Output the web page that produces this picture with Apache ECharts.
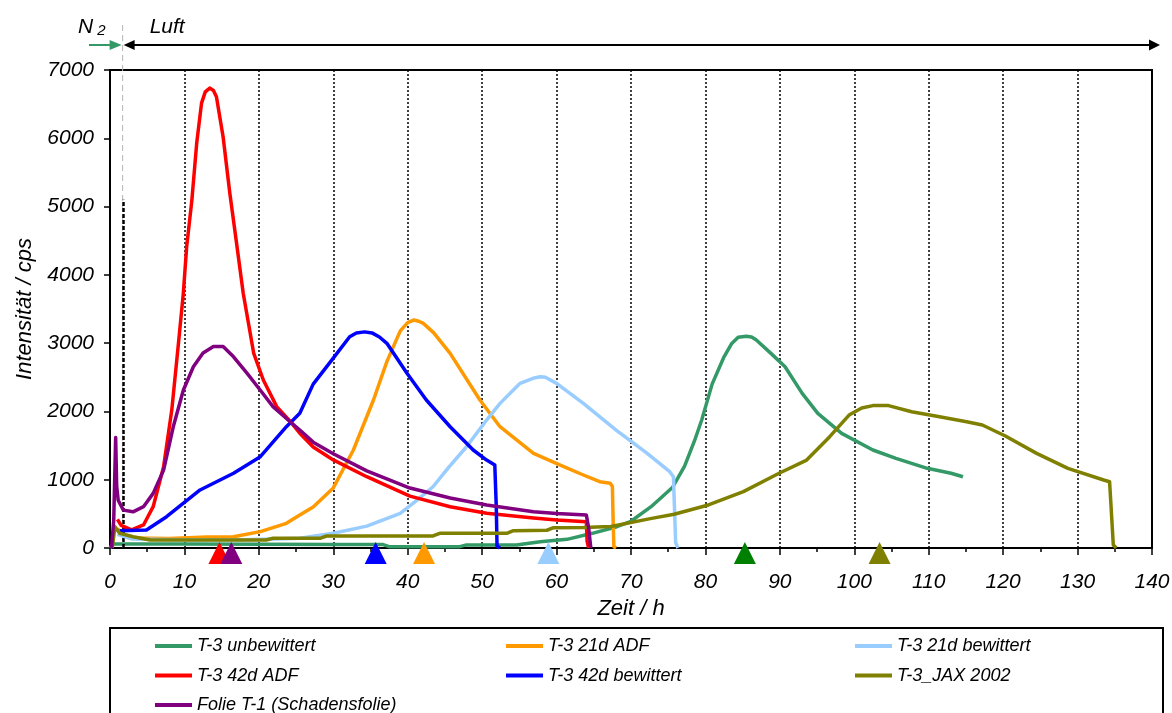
<!DOCTYPE html>
<html><head><meta charset="utf-8">
<script src="https://cdn.jsdelivr.net/npm/echarts@6/dist/echarts.min.js"></script>
<style>html,body{margin:0;padding:0;background:#fff}#main{width:1172px;height:713px}</style>
</head><body><div id="main"></div>
<script>
// ---------------- DATA ----------------
const xMin = 0, xMax = 140, xStep = 10;
const yMin = 0, yMax = 7000, yStep = 1000;

const seriesNames = ['T-3 unbewittert','T-3 21d ADF','T-3 21d bewittert','T-3 42d ADF','T-3 42d bewittert','T-3_JAX 2002','Folie T-1 (Schadensfolie)'];

const t3Unbewittert = [[0,0],[0.4,60],[2,58],[10,58],[20,55],[30,52],[36.7,50],[37.5,20],[47,20],[47.9,45],[54.6,45],[57.8,90],[61.4,127],[64.8,215],[68.1,312],[69.9,385],[72.7,605],[75.6,890],[77.2,1200],[78.5,1560],[79.5,1874],[80.9,2400],[82.5,2800],[83.5,2990],[84.4,3085],[85.5,3100],[86.2,3090],[86.8,3050],[88.8,2850],[90.7,2655],[93,2265],[95.1,1972],[98.3,1679],[102.5,1435],[105.6,1313],[109.8,1167],[113,1094],[114.6,1044]];

const t3Adf21 = [[1.0,280],[2,180],[3,145],[8,140],[13,160],[16.6,165],[20.2,240],[23.7,361],[25.5,483],[27.3,600],[30,880],[32.7,1435],[35.4,2167],[37.2,2730],[39,3180],[40,3300],[40.8,3338],[41.5,3320],[42.1,3289],[43.5,3150],[45.7,2850],[49.7,2167],[52.4,1776],[56.9,1386],[60.5,1215],[63.6,1069],[65.8,971],[67.2,947],[67.5,900],[67.6,400],[67.7,20],[68,0]];

const t3Bew21 = [[1,200],[3,130],[10,120],[18,120],[22,130],[25.5,142],[30,215],[34.5,320],[39,508],[41,680],[43.4,897],[45.5,1180],[47.9,1483],[50.6,1874],[52.4,2118],[55.1,2411],[57,2490],[57.8,2508],[58.5,2500],[60,2411],[63.6,2118],[68,1727],[72,1400],[75.2,1117],[75.7,1044],[75.9,400],[76,80],[76.3,0]];

const t3Adf42 = [[1.0,420],[1.5,330],[2.9,264],[4.5,337],[5.8,605],[7.2,1190],[8.3,2020],[9.2,3000],[9.85,3730],[10.3,4410],[11,5095],[11.65,5930],[12.3,6515],[12.8,6680],[13.4,6735],[13.9,6700],[14.3,6607],[15.2,6020],[16.1,5195],[17,4465],[17.9,3730],[19.3,2855],[20.6,2460],[22.4,2070],[24.4,1830],[25.5,1680],[27.3,1480],[30,1290],[34.5,1044],[40.3,760],[45.7,605],[50.6,508],[56.9,439],[60,410],[64,385],[64.1,100],[64.3,0]];

const t3Bew42 = [[1.3,254],[4.9,264],[7.6,458],[12.1,850],[16.6,1094],[20.2,1337],[23.7,1776],[25.5,1972],[27.3,2400],[30,2780],[32.2,3094],[33.1,3150],[34.2,3165],[35.2,3150],[36.2,3090],[37.2,2997],[39.9,2558],[42.5,2167],[45.7,1776],[48.8,1435],[50.6,1288],[51.7,1215],[51.9,600],[52,30],[52.4,0]];

const t3Jax2002 = [[0.3,0],[0.67,312],[1.3,215],[3.1,165],[5.4,117],[21,117],[21.9,142],[28.2,142],[29.1,176],[43.4,176],[44.3,215],[53.3,215],[54.2,254],[58.7,260],[59.6,297],[63.6,300],[67.3,315],[72.6,430],[75.8,495],[80.4,630],[85.1,825],[89.9,1094],[93.6,1288],[96.7,1630],[99.3,1947],[101,2050],[102.5,2085],[104.6,2085],[107.7,1996],[110.9,1932],[115.1,1849],[117.2,1801],[120.3,1640],[124.5,1386],[128.7,1167],[133.5,996],[134.3,971],[134.5,605],[134.8,44],[135.2,0]];

const folieT1 = [[0.2,0],[0.5,400],[0.76,1620],[0.9,900],[1.1,700],[1.8,555],[3.1,530],[4.5,605],[5.8,800],[7.2,1140],[8.5,1775],[9.85,2310],[11.2,2655],[12.5,2855],[13.9,2950],[15.2,2950],[16.6,2800],[18.4,2560],[20.2,2310],[21.9,2070],[24.4,1830],[25.5,1727],[27.3,1550],[30,1380],[34.5,1130],[40.3,878],[45.7,732],[50.6,630],[56.9,532],[60,505],[64,483],[64.3,300],[64.6,0]];

const seriesData = [t3Unbewittert, t3Adf21, t3Bew21, t3Adf42, t3Bew42, t3Jax2002, folieT1];

// onset markers (triangles) on the time axis
const markerTimes = [14.7, 16.3, 35.7, 42.2, 58.9, 85.3, 103.4];

// gas switch N2 -> air and dashed marker
const phaseSwitch = 1.7;
const dashLineX = 1.8, dashLineTop = 5100;

// ---------------- STYLE ----------------
const FONT = '"Liberation Sans", Arial, Helvetica, sans-serif';
const seriesColors = ['#339966','#FF9900','#99CCFF','#FF0000','#0000FF','#808000','#800080'];
const markerColors = ['#FF0000','#800080','#0000FF','#FF9900','#99CCFF','#008000','#808000'];

const chart = echarts.init(document.getElementById('main'));

const lineSeries = seriesNames.map((n, i) => ({
  name: n, type: 'line', data: seriesData[i], showSymbol: false, symbol: 'none',
  lineStyle: { color: seriesColors[i], width: 3.5, join: 'round' }, itemStyle: { color: seriesColors[i] },
  z: 3 + i, animation: false
}));
lineSeries[0].markLine = {
  silent: true, symbol: 'none', label: { show: false }, animation: false,
  lineStyle: { color: '#000', width: 2.5, type: [4, 2] },
  data: [[{ coord: [dashLineX, 0] }, { coord: [dashLineX, dashLineTop] }]]
};

const markerSeries = {
  type: 'scatter', name: 'markers', symbol: 'triangle', symbolSize: [22, 22], symbolOffset: [0, 5],
  clip: false, z: 20, silent: true, animation: false,
  data: markerTimes.map((t, i) => ({ value: [t, 0], itemStyle: { color: markerColors[i], opacity: 1 } }))
};

const legendBase = {
  orient: 'vertical', icon: 'rect', itemWidth: 37, itemHeight: 4, itemGap: 11.5, padding: 0,
  top: 637, height: 110, selectedMode: false,
  textStyle: { fontFamily: FONT, fontStyle: 'italic', fontSize: 18, color: '#000', lineHeight: 18 }
};

const option = {
  backgroundColor: '#fff',
  animation: false,
  grid: { left: 110, right: 20, top: 70, bottom: 165, containLabel: false, outerBoundsMode: 'none',
          show: true, borderColor: '#000', borderWidth: 2, backgroundColor: 'transparent' },
  xAxis: {
    type: 'value', min: xMin, max: xMax, interval: xStep,
    name: 'Zeit / h', nameLocation: 'middle', nameGap: 50,
    nameTextStyle: { fontFamily: FONT, fontStyle: 'italic', fontSize: 22, color: '#000' },
    axisLine: { show: true, lineStyle: { color: '#000', width: 2 } },
    axisTick: { show: true, length: 7, lineStyle: { color: '#000', width: 1.5 } },
    minorTick: { show: true, splitNumber: 2, length: 4, lineStyle: { color: '#000', width: 1.5 } },
    axisLabel: { fontFamily: FONT, fontStyle: 'italic', fontSize: 21, color: '#000', margin: 24 },
    splitLine: { show: true, lineStyle: { color: '#000', width: 1.5, type: [2, 2] } }
  },
  yAxis: {
    type: 'value', min: yMin, max: yMax, interval: yStep,
    name: 'Intensität / cps', nameLocation: 'middle', nameGap: 74,
    nameTextStyle: { fontFamily: FONT, fontStyle: 'italic', fontSize: 22, color: '#000' },
    axisLine: { show: true, lineStyle: { color: '#000', width: 2 } },
    axisTick: { show: true, length: 6, lineStyle: { color: '#000', width: 1.5 } },
    axisLabel: { fontFamily: FONT, fontStyle: 'italic', fontSize: 21, color: '#000', margin: 16,
                 formatter: v => String(v) },
    splitLine: { show: false }
  },
  legend: [
    Object.assign({}, legendBase, { left: 155, data: [seriesNames[0], seriesNames[3], seriesNames[6]] }),
    Object.assign({}, legendBase, { left: 506, data: [seriesNames[1], seriesNames[4]] }),
    Object.assign({}, legendBase, { left: 855, data: [seriesNames[2], seriesNames[5]] })
  ],
  series: lineSeries.concat([markerSeries])
};
chart.setOption(option);

// ---------- annotations positioned from the axes ----------
const p = (t, v) => chart.convertToPixel({ xAxisIndex: 0, yAxisIndex: 0 }, [t, v]);
const [sx, gridBottom] = p(phaseSwitch, yMin);
const gridTop = p(xMin, yMax)[1];
const gridLeft = p(xMin, yMin)[0];
const gridRight = p(xMax, yMin)[0];
const ay = gridTop - 25;
const ty = gridTop - 45;

chart.setOption({
  graphic: [
    // gas switch line
    { type: 'line', shape: { x1: sx, y1: ty, x2: sx, y2: gridBottom }, z: 1,
      style: { stroke: '#b4b4b4', lineWidth: 1, lineDash: [6, 4] } },
    // N2 arrow
    { type: 'line', shape: { x1: gridLeft - 21, y1: ay, x2: sx - 10, y2: ay }, style: { stroke: '#339966', lineWidth: 2 } },
    { type: 'polygon', shape: { points: [[sx - 1, ay], [sx - 13, ay - 5], [sx - 13, ay + 5]] }, style: { fill: '#339966' } },
    // Luft arrow
    { type: 'line', shape: { x1: sx + 8, y1: ay, x2: gridRight + 1, y2: ay }, style: { stroke: '#000', lineWidth: 2 } },
    { type: 'polygon', shape: { points: [[sx + 1, ay], [sx + 12, ay - 5], [sx + 12, ay + 5]] }, style: { fill: '#000' } },
    { type: 'polygon', shape: { points: [[gridRight + 8, ay], [gridRight - 3, ay - 5.5], [gridRight - 3, ay + 5.5]] }, style: { fill: '#000' } },
    // labels
    { type: 'text', x: gridLeft - 32, y: ty + 2, style: {
        text: 'N{s|2}', fontFamily: FONT, fontStyle: 'italic', fontSize: 21, fill: '#000', verticalAlign: 'middle',
        rich: { s: { fontFamily: FONT, fontStyle: 'italic', fontSize: 15, fill: '#000', padding: [8, 0, 0, 4] } } } },
    { type: 'text', x: sx + 27, y: ty + 2, style: {
        text: 'Luft', fontFamily: FONT, fontStyle: 'italic', fontSize: 21, fill: '#000', verticalAlign: 'middle' } },
    // legend frame
    { type: 'rect', shape: { x: gridLeft, y: gridBottom + 80, width: 1053, height: 120 },
      style: { fill: 'none', stroke: '#000', lineWidth: 2 } }
  ]
});
</script></body></html>
